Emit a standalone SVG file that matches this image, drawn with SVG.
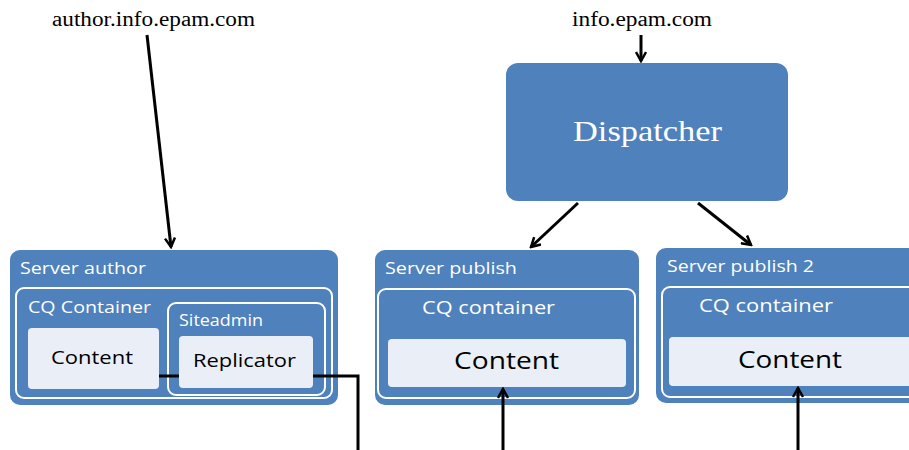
<svg xmlns="http://www.w3.org/2000/svg" width="909" height="450" viewBox="0 0 909 450">
<defs>
<marker id="arr" markerWidth="12" markerHeight="12" refX="10" refY="6" orient="auto" markerUnits="userSpaceOnUse">
<path d="M1,1 L10,6 L1,11" fill="none" stroke="#000" stroke-width="2.5"/>
</marker>
<style>
.srv{fill:#4F81BD;}
.out{fill:none;stroke:#fff;stroke-width:2;}
.lt{fill:#EAEFF7;}
text{font-family:"Open Sans","Liberation Sans",sans-serif;}
.w{fill:#fff;}
.k{fill:#000;}
.serif{font-family:"Liberation Serif","Times New Roman",serif;}
.ln{fill:none;stroke:#000;stroke-width:3;}
</style>
</defs>
<rect width="909" height="450" fill="#fff"/>
<g id="label-author"><text class="serif k" x="52" y="26" font-size="20" textLength="203" lengthAdjust="spacingAndGlyphs">author.info.epam.com</text></g>
<g id="label-info"><text class="serif k" x="572" y="26" font-size="20" textLength="140" lengthAdjust="spacingAndGlyphs">info.epam.com</text></g>
<g id="dispatcher">
<rect class="srv" x="506" y="63" width="282" height="138" rx="12"/>
<text class="serif w" x="573" y="141" font-size="30" textLength="149" lengthAdjust="spacingAndGlyphs">Dispatcher</text>
</g>
<g id="server-author">
<rect class="srv" x="10" y="250" width="328" height="155" rx="10"/>
<text class="w" x="20" y="274" font-size="17" textLength="126" lengthAdjust="spacingAndGlyphs">Server author</text>
<rect class="out" x="16" y="288" width="316" height="110" rx="8"/>
<text class="w" x="28" y="313" font-size="17" textLength="123" lengthAdjust="spacingAndGlyphs">CQ Container</text>
<rect class="out" x="168" y="303" width="157" height="92" rx="8"/>
<text class="w" x="179" y="326" font-size="16" textLength="84" lengthAdjust="spacingAndGlyphs">Siteadmin</text>
<rect class="lt" x="28" y="328" width="131" height="61" rx="4"/>
<text class="k" x="51" y="364" font-size="19" textLength="82" lengthAdjust="spacingAndGlyphs">Content</text>
<rect class="lt" x="179" y="336" width="134" height="52" rx="4"/>
<text class="k" x="193" y="367" font-size="19" textLength="103" lengthAdjust="spacingAndGlyphs">Replicator</text>
</g>
<g id="server-publish">
<rect class="srv" x="375" y="250" width="264" height="155" rx="10"/>
<text class="w" x="385" y="274" font-size="17" textLength="132" lengthAdjust="spacingAndGlyphs">Server publish</text>
<rect class="out" x="378" y="289" width="257" height="109" rx="8"/>
<text class="w" x="422" y="314" font-size="18" textLength="133" lengthAdjust="spacingAndGlyphs">CQ container</text>
<rect class="lt" x="388" y="339" width="238" height="48" rx="4"/>
<text class="k" x="454" y="369" font-size="23" textLength="105" lengthAdjust="spacingAndGlyphs">Content</text>
</g>
<g id="server-publish-2">
<rect class="srv" x="656" y="248" width="270" height="155" rx="10"/>
<text class="w" x="667" y="272" font-size="17" textLength="147" lengthAdjust="spacingAndGlyphs">Server publish 2</text>
<rect class="out" x="662" y="287" width="260" height="110" rx="8"/>
<text class="w" x="699" y="312" font-size="18" textLength="134" lengthAdjust="spacingAndGlyphs">CQ container</text>
<rect class="lt" x="669" y="337" width="250" height="49" rx="4"/>
<text class="k" x="738" y="368" font-size="23" textLength="104" lengthAdjust="spacingAndGlyphs">Content</text>
</g>
<g id="connectors">
<line class="ln" x1="147" y1="35" x2="171" y2="247" marker-end="url(#arr)"/>
<line class="ln" x1="641" y1="35" x2="641" y2="61" marker-end="url(#arr)"/>
<line class="ln" x1="578" y1="203" x2="531" y2="247" marker-end="url(#arr)"/>
<line class="ln" x1="698" y1="203" x2="751" y2="245" marker-end="url(#arr)"/>
<line class="ln" x1="159" y1="376" x2="179" y2="376"/>
<polyline class="ln" points="313,376 358,376 358,450"/>
<line class="ln" x1="503" y1="450" x2="503" y2="389" marker-end="url(#arr)"/>
<line class="ln" x1="798" y1="450" x2="798" y2="388" marker-end="url(#arr)"/>
</g>
</svg>
